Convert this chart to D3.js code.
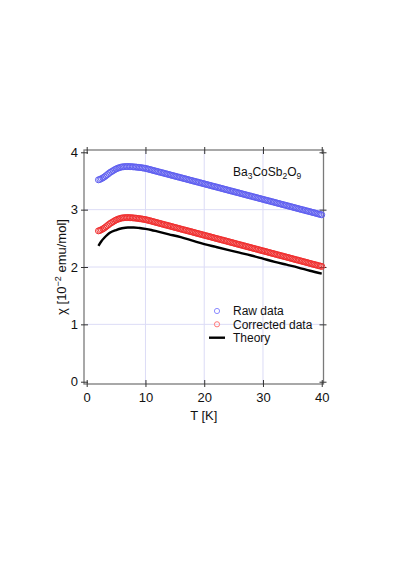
<!DOCTYPE html>
<html>
<head>
<meta charset="utf-8">
<script src="https://cdn.jsdelivr.net/npm/d3@7"></script>
<style>
  body { margin: 0; background: #fff; }
  text { font-family: "Liberation Sans", Arial, sans-serif; fill: #111; }
</style>
</head>
<body>
<svg id="chart" width="397" height="562"></svg>
<script>
// data (T in K, chi in 10^-2 emu/mol)
const temps = [
  2.0,2.25,2.5,2.75, 3.0,3.25,3.5,3.75, 4.0,4.25,4.5,4.75, 5.0,5.25,5.5,5.75,
  6.0,6.25,6.5,6.75, 7.0,7.25,7.5,7.75, 8.0,8.25,8.5,8.75, 9.0,9.25,9.5,9.75,
  10.0,10.25,10.5,10.75, 11.0,11.25,11.5,11.75, 12.0,12.25,12.5,12.75, 13.0,13.25,13.5,13.75,
  14.0,14.25,14.5,14.75, 15.0,15.25,15.5,15.75, 16.0,16.25,16.5,16.75, 17.0,17.25,17.5,17.75,
  18.0,18.25,18.5,18.75, 19.0,19.25,19.5,19.75, 20.0,20.25,20.5,20.75, 21.0,21.25,21.5,21.75,
  22.0,22.25,22.5,22.75, 23.0,23.25,23.5,23.75, 24.0,24.25,24.5,24.75, 25.0,25.25,25.5,25.75,
  26.0,26.25,26.5,26.75, 27.0,27.25,27.5,27.75, 28.0,28.25,28.5,28.75, 29.0,29.25,29.5,29.75,
  30.0,30.25,30.5,30.75, 31.0,31.25,31.5,31.75, 32.0,32.25,32.5,32.75, 33.0,33.25,33.5,33.75,
  34.0,34.25,34.5,34.75, 35.0,35.25,35.5,35.75, 36.0,36.25,36.5,36.75, 37.0,37.25,37.5,37.75,
  38.0,38.25,38.5,38.75, 39.0,39.25,39.5,39.75, 40.0];

const rawData = [
  3.520,3.528,3.540,3.554, 3.570,3.590,3.610,3.630, 3.650,3.665,3.680,3.696, 3.710,3.721,3.730,3.738,
  3.745,3.748,3.750,3.752, 3.752,3.751,3.750,3.748, 3.746,3.744,3.741,3.738, 3.735,3.732,3.728,3.724,
  3.720,3.713,3.706,3.700, 3.693,3.686,3.679,3.673, 3.666,3.659,3.652,3.646, 3.639,3.632,3.625,3.619,
  3.612,3.605,3.598,3.592, 3.585,3.578,3.571,3.565, 3.558,3.551,3.544,3.538, 3.531,3.524,3.517,3.511,
  3.504,3.497,3.490,3.484, 3.477,3.470,3.463,3.457, 3.450,3.443,3.436,3.430, 3.423,3.416,3.409,3.403,
  3.396,3.389,3.382,3.376, 3.369,3.362,3.355,3.349, 3.342,3.335,3.328,3.322, 3.315,3.308,3.301,3.295,
  3.288,3.281,3.274,3.268, 3.261,3.254,3.247,3.241, 3.234,3.227,3.220,3.214, 3.207,3.200,3.193,3.187,
  3.180,3.173,3.166,3.160, 3.153,3.146,3.139,3.133, 3.126,3.119,3.112,3.106, 3.099,3.092,3.085,3.079,
  3.072,3.065,3.058,3.052, 3.045,3.038,3.031,3.025, 3.018,3.011,3.004,2.998, 2.991,2.984,2.977,2.971,
  2.964,2.957,2.950,2.944, 2.937,2.930,2.923,2.917, 2.910];

const correctedData = [
  2.630,2.638,2.650,2.664, 2.680,2.700,2.720,2.740, 2.760,2.775,2.790,2.806, 2.820,2.831,2.840,2.848,
  2.855,2.858,2.860,2.862, 2.862,2.861,2.860,2.858, 2.855,2.853,2.850,2.847, 2.843,2.839,2.835,2.831,
  2.827,2.820,2.813,2.807, 2.800,2.793,2.786,2.779, 2.772,2.766,2.759,2.752, 2.745,2.738,2.731,2.725,
  2.718,2.711,2.704,2.697, 2.690,2.684,2.677,2.670, 2.663,2.656,2.649,2.643, 2.636,2.629,2.622,2.616,
  2.609,2.602,2.595,2.588, 2.581,2.575,2.568,2.561, 2.554,2.547,2.540,2.534, 2.527,2.520,2.513,2.506,
  2.499,2.493,2.486,2.479, 2.472,2.466,2.459,2.452, 2.445,2.438,2.431,2.425, 2.418,2.411,2.404,2.397,
  2.390,2.384,2.377,2.370, 2.363,2.356,2.349,2.343, 2.336,2.329,2.322,2.316, 2.309,2.302,2.295,2.288,
  2.281,2.275,2.268,2.261, 2.254,2.247,2.240,2.234, 2.227,2.220,2.213,2.206, 2.199,2.193,2.186,2.179,
  2.172,2.166,2.159,2.152, 2.145,2.138,2.131,2.125, 2.118,2.111,2.104,2.097, 2.090,2.084,2.077,2.070,
  2.063,2.056,2.049,2.043, 2.036,2.029,2.022,2.016, 2.010];

const theoryT = [2,2.5,3,3.5,4,5,6,7,8,9,10,11,12,14,16,18,20,22,24,26,28,30,32,34,36,38,40];
const theoryVal = [2.37,2.45,2.51,2.56,2.60,2.645,2.675,2.69,2.69,2.68,2.665,2.645,2.62,2.57,2.52,2.46,
  2.40,2.35,2.30,2.25,2.20,2.145,2.09,2.04,1.99,1.935,1.885];

const xTicks = [0,10,20,30,40];
const yTicks = [0,1,2,3,4];
const legendLabels = ["Raw data", "Corrected data", "Theory"];

const svg = d3.select("#chart");
const box = {left: 84, right: 323.5, top: 150, bottom: 384};

const x = d3.scaleLinear().domain([-0.46, 40.3]).range([box.left, box.right]);
const y = d3.scaleLinear().domain([-0.04, 4.04]).range([box.bottom, box.top]);

// grid
svg.append("g").selectAll("line").data(xTicks.slice(1, -1)).enter().append("line")
  .attr("x1", d => x(d)).attr("x2", d => x(d))
  .attr("y1", box.top).attr("y2", box.bottom)
  .attr("stroke", "#dcdcf6").attr("stroke-width", 1);
svg.append("g").selectAll("line").data(yTicks.slice(1, -1)).enter().append("line")
  .attr("y1", d => y(d)).attr("y2", d => y(d))
  .attr("x1", box.left).attr("x2", box.right)
  .attr("stroke", "#dcdcf6").attr("stroke-width", 1);

// frame
svg.append("rect")
  .attr("x", box.left).attr("y", box.top)
  .attr("width", box.right - box.left).attr("height", box.bottom - box.top)
  .attr("fill", "none").attr("stroke", "#7a7a7a").attr("stroke-width", 1.3);

// axes, ticks cross the frame
const bottomAxis = svg.append("g").attr("transform", "translate(0," + box.bottom + ")")
  .call(d3.axisBottom(x).tickValues(xTicks).tickSizeInner(-4).tickSizeOuter(0).tickPadding(9).tickFormat(d3.format("d")));
const topAxis = svg.append("g").attr("transform", "translate(0," + box.top + ")")
  .call(d3.axisTop(x).tickValues(xTicks).tickSizeInner(-4).tickSizeOuter(0).tickFormat(""));
const leftAxis = svg.append("g").attr("transform", "translate(" + box.left + ",0)")
  .call(d3.axisLeft(y).tickValues(yTicks).tickSizeInner(-4).tickSizeOuter(0).tickPadding(6).tickFormat(d3.format("d")));
const rightAxis = svg.append("g").attr("transform", "translate(" + box.right + ",0)")
  .call(d3.axisRight(y).tickValues(yTicks).tickSizeInner(-4).tickSizeOuter(0).tickFormat(""));

[bottomAxis, topAxis, leftAxis, rightAxis].forEach(function(g){
  g.select(".domain").remove();
  g.selectAll(".tick line").attr("stroke", "#333").attr("stroke-width", 1);
  g.selectAll(".tick text").attr("font-size", "13px").attr("fill", "#111")
    .attr("font-family", "Liberation Sans, Arial, sans-serif");
});
// outward part of the ticks
bottomAxis.selectAll(".tick").append("line").attr("y1", 0).attr("y2", 3).attr("stroke", "#333");
leftAxis.selectAll(".tick").append("line").attr("x1", 0).attr("x2", -3).attr("stroke", "#333");
rightAxis.selectAll(".tick").append("line").attr("x1", 0).attr("x2", 3).attr("stroke", "#333");
topAxis.selectAll(".tick").append("line").attr("y1", 0).attr("y2", -3).attr("stroke", "#333");

// axis titles
svg.append("text")
  .attr("x", (box.left + box.right) / 2).attr("y", 420)
  .attr("text-anchor", "middle").attr("font-size", "13px")
  .text("T [K]");

const yTitle = svg.append("text")
  .attr("transform", "translate(66,267) rotate(-90)")
  .attr("text-anchor", "middle").attr("font-size", "13px");
yTitle.append("tspan").text("\u03c7 [10");
yTitle.append("tspan").attr("dy", -5).attr("font-size", "9px").text("\u22122");
yTitle.append("tspan").attr("dy", 5).text(" emu/mol]");

// series
const rawPts = temps.map((t, i) => ({t: t, v: rawData[i]}));
const corPts = temps.map((t, i) => ({t: t, v: correctedData[i]}));
const thPts = theoryT.map((t, i) => ({t: t, v: theoryVal[i]}));

svg.append("g").selectAll("circle").data(rawPts).enter().append("circle")
  .attr("cx", d => x(d.t)).attr("cy", d => y(d.v)).attr("r", 3)
  .attr("fill", "none").attr("stroke", "#6060f0").attr("stroke-width", 1);

svg.append("g").selectAll("circle").data(corPts).enter().append("circle")
  .attr("cx", d => x(d.t)).attr("cy", d => y(d.v)).attr("r", 3)
  .attr("fill", "none").attr("stroke", "#f03030").attr("stroke-width", 1);

svg.append("path").datum(thPts)
  .attr("fill", "none").attr("stroke", "#000").attr("stroke-width", 2.4)
  .attr("d", d3.line().curve(d3.curveMonotoneX).x(d => x(d.t)).y(d => y(d.v)));

// compound label
const lab = svg.append("text").attr("x", 233).attr("y", 176).attr("font-size", "12px");
[["Ba", false], ["3", true], ["CoSb", false], ["2", true], ["O", false], ["9", true]].forEach(function(p){
  lab.append("tspan").text(p[0])
    .attr("font-size", p[1] ? "8.5px" : "12px")
    .attr("baseline-shift", p[1] ? "-3" : null);
});

// legend
const legend = svg.append("g").attr("transform", "translate(217,311)");
legend.append("circle").attr("cx", 0).attr("cy", 0).attr("r", 2.6)
  .attr("fill", "none").attr("stroke", "#8c8cff").attr("stroke-width", 1);
legend.append("circle").attr("cx", 0).attr("cy", 13.3).attr("r", 2.6)
  .attr("fill", "none").attr("stroke", "#ff7878").attr("stroke-width", 1);
legend.append("line").attr("x1", -8).attr("x2", 8).attr("y1", 26.7).attr("y2", 26.7)
  .attr("stroke", "#000").attr("stroke-width", 2.4);
legend.selectAll("text.leg").data(legendLabels).enter().append("text")
  .attr("class", "leg")
  .attr("x", 16).attr("y", (d, i) => i * 13.3 + 4.3)
  .attr("font-size", "12px")
  .text(d => d);
</script>
</body>
</html>
